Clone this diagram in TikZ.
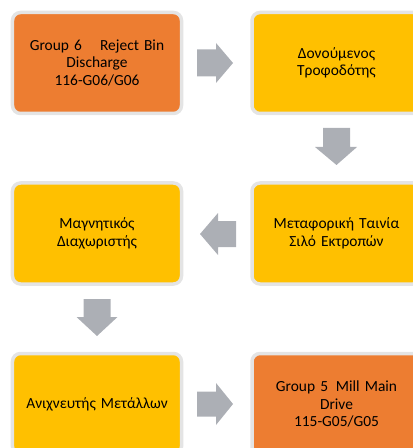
\documentclass[tikz,border=0pt]{standalone}
\usepackage{fontspec}
\setmainfont{Carlito}
\definecolor{boxorange}{RGB}{237,125,49}
\definecolor{boxyellow}{RGB}{255,192,0}
\definecolor{boxrim}{RGB}{228,228,228}
\definecolor{arrowgray}{RGB}{172,175,181}
\begin{document}
\begin{tikzpicture}[x=1bp,y=-1bp,
  box/.style={draw=boxrim,line width=3.5bp,rounded corners=8bp,minimum width=169bp,minimum height=101bp,
    inner sep=0pt,align=center,text width=160bp,font=\fontsize{15.5}{17.5}\selectfont},
  obox/.style={box,fill=boxorange},
  ybox/.style={box,fill=boxyellow},
  blockarrow/.style={fill=arrowgray}]
\useasboundingbox (0,0) rectangle (412,448);
\node[obox] (b1) at (97,63) {Group 6\hspace{18bp}Reject Bin\\Discharge\\116-G06/G06};
\node[ybox] (b2) at (336.5,63) {Δονούμενος\\Τροφοδότης};
\node[ybox] (b3) at (336.5,233.5) {Μεταφορική Ταινία\\Σιλό Εκτροπών};
\node[ybox] (b4) at (97,233.5) {Μαγνητικός\\Διαχωριστής};
\node[ybox] (b5) at (97,404) {Ανιχνευτής Μετάλλων};
\node[obox] (b6) at (336.5,404) {Group 5\hspace{0.5em}Mill Main\\Drive\\115-G05/G05};
% block arrows
\fill[blockarrow] (197,49.5) -- (216,49.5) -- (216,43) -- (233,63) -- (216,83) -- (216,76.5) -- (197,76.5) -- cycle;
\fill[blockarrow] (323,128) -- (350,128) -- (350,147) -- (357,147) -- (336.5,165) -- (315,147) -- (323,147) -- cycle;
\fill[blockarrow] (236,221) -- (218,221) -- (218,213) -- (200,234) -- (218,255) -- (218,247) -- (236,247) -- cycle;
\fill[blockarrow] (83.5,299) -- (110.5,299) -- (110.5,317) -- (117.5,317) -- (97,336) -- (76.5,317) -- (83.5,317) -- cycle;
\fill[blockarrow] (197,391.5) -- (216,391.5) -- (216,383) -- (233,404) -- (216,425) -- (216,416.5) -- (197,416.5) -- cycle;
\end{tikzpicture}
\end{document}
